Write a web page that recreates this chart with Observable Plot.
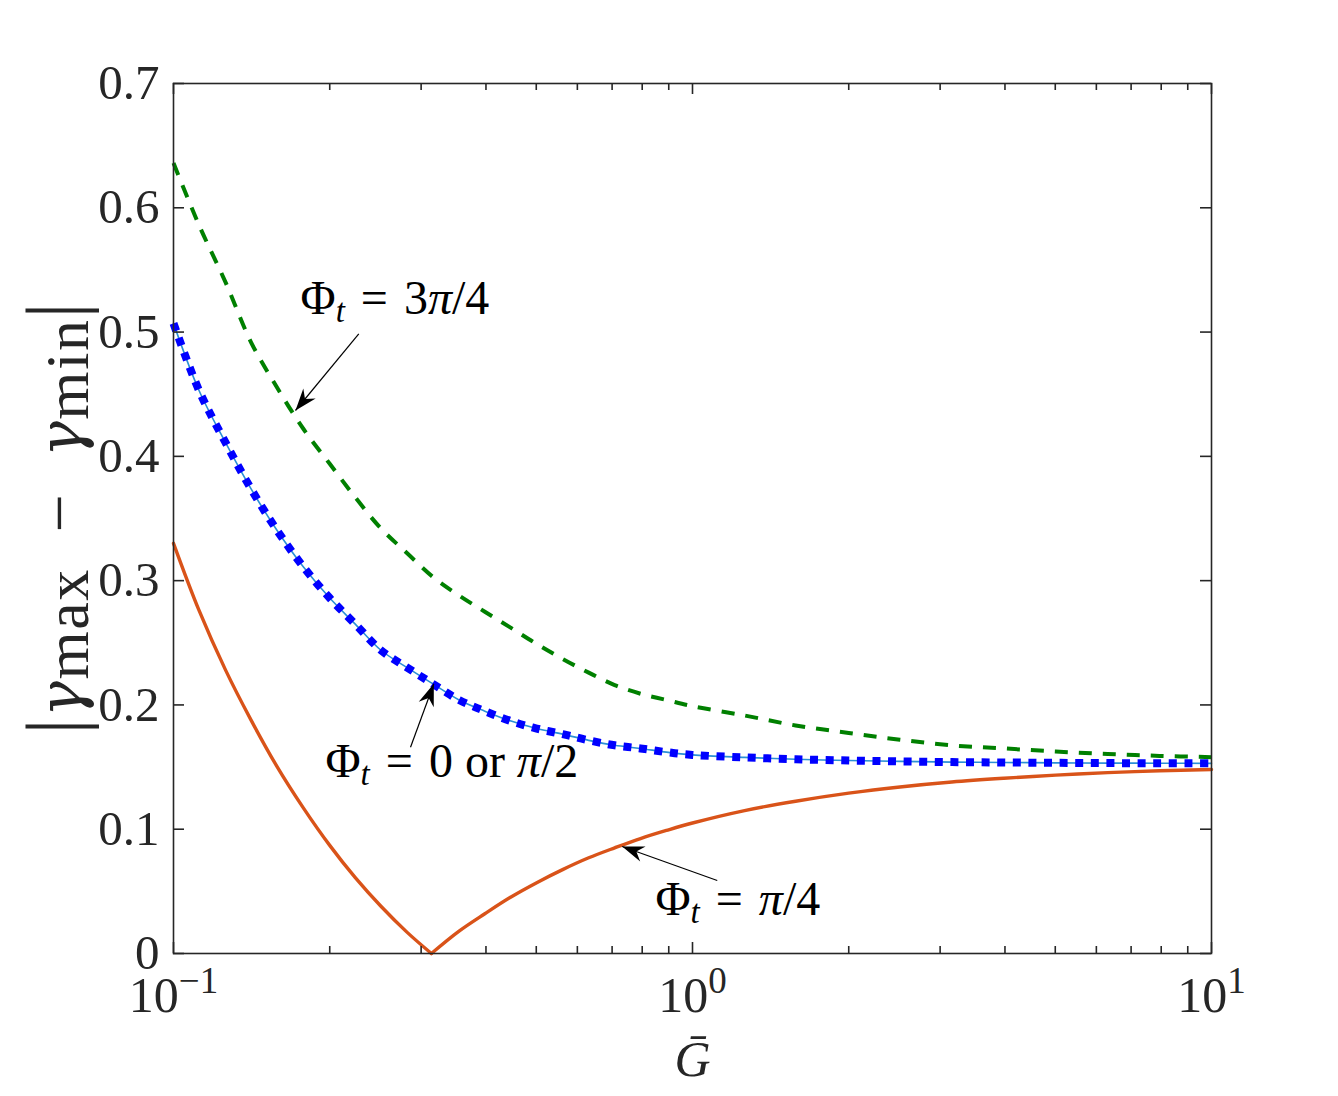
<!DOCTYPE html>
<html>
<head>
<meta charset="utf-8">
<script src="https://cdn.jsdelivr.net/npm/d3@7"></script>
<script src="https://cdn.jsdelivr.net/npm/@observablehq/plot@0.6"></script>
<style>
  body { margin: 0; background: #fff; }
  #chart svg { display: block; }
</style>
</head>
<body>
<div id="chart"></div>
<script>
// ---------------- data ----------------
const xTicks = [0.1, 1, 10];
const xTickExponents = ["\u22121", "0", "1"];
const xMinorTicks = [0.2, 0.3, 0.4, 0.5, 0.6, 0.7, 0.8, 0.9, 2, 3, 4, 5, 6, 7, 8, 9];
const yTicks = [0, 0.1, 0.2, 0.3, 0.4, 0.5, 0.6, 0.7];
const yTickLabels = ["0", "0.1", "0.2", "0.3", "0.4", "0.5", "0.6", "0.7"];

const gBar = [0.1, 0.112, 0.126, 0.141, 0.158, 0.178, 0.2, 0.224, 0.251, 0.282, 0.316, 0.355, 0.398, 0.447, 0.501, 0.562, 0.631, 0.708, 0.794, 0.891, 1, 1.26, 1.58, 2, 2.51, 3.16, 3.98, 5.01, 6.31, 7.94, 10];
// Phi_t = 3pi/4 (green dashed)
const gamma3pi4 = [0.636, 0.586, 0.540, 0.492, 0.456, 0.422, 0.394, 0.367, 0.342, 0.322, 0.303, 0.288, 0.275, 0.262, 0.249, 0.237, 0.226, 0.216, 0.209, 0.204, 0.199, 0.1915, 0.1835, 0.1775, 0.172, 0.1675, 0.165, 0.1625, 0.1605, 0.159, 0.158];
// Phi_t = 0 or pi/2 (blue dotted)
const gamma0pi2 = [0.507, 0.453, 0.411, 0.374, 0.341, 0.311, 0.286, 0.265, 0.244, 0.230, 0.217, 0.204, 0.195, 0.187, 0.181, 0.1765, 0.1715, 0.1675, 0.165, 0.162, 0.1598, 0.1578, 0.1563, 0.1553, 0.1546, 0.154, 0.1537, 0.1534, 0.1532, 0.1531, 0.153];
// Phi_t = pi/4 (orange solid), two branches meeting at the cusp
const gBarPi4Left = [0.1, 0.112, 0.126, 0.141, 0.158, 0.178, 0.2, 0.224, 0.251, 0.282, 0.314];
const gammaPi4Left = [0.330, 0.276, 0.228, 0.188, 0.151, 0.117, 0.087, 0.061, 0.038, 0.017, 0];
const gBarPi4Right = [0.314, 0.355, 0.398, 0.447, 0.501, 0.562, 0.631, 0.708, 0.794, 0.891, 1, 1.26, 1.58, 2, 2.51, 3.16, 3.98, 5.01, 6.31, 7.94, 10];
const gammaPi4Right = [0, 0.018, 0.032, 0.0455, 0.057, 0.0675, 0.077, 0.085, 0.0925, 0.099, 0.105, 0.115, 0.1225, 0.129, 0.134, 0.138, 0.141, 0.1435, 0.1455, 0.147, 0.148];

// annotations (text anchor at left baseline) and arrows (tail -> tip)
const annotationText = ["\u03A6_t = 3\u03C0/4", "\u03A6_t = 0 or \u03C0/2", "\u03A6_t = \u03C0/4"];
const annotationX = [0.1757, 0.1963, 0.8486];
const annotationY = [0.5149, 0.1424, 0.0306];
const arrowX1 = [0.2275, 0.2862, 1.116];
const arrowY1 = [0.4986, 0.166, 0.0587];
const arrowX2 = [0.1718, 0.3174, 0.732];
const arrowY2 = [0.4369, 0.217, 0.0861];

const xTitle = "G\u0304";
const yTitle = "|\u03B3_max \u2212 \u03B3_min|";

// ---------------- build ----------------
const W = 1338, H = 1096;
const M = {top: 83, right: 127, bottom: 143, left: 173};
const innerW = W - M.left - M.right;
const innerH = H - M.top - M.bottom;
const ink = "#262626";
const serif = "'Liberation Serif', 'Times New Roman', serif";
const yTitleLength = 432;

const rows = (xs, ys, series) => xs.map((x, i) => ({x, y: ys[i], series}));
const green = rows(gBar, gamma3pi4, "3pi/4");
const blue = rows(gBar, gamma0pi2, "0 or pi/2");
const orange = [...rows(gBarPi4Left, gammaPi4Left, "left"), ...rows(gBarPi4Right, gammaPi4Right, "right")];
const annotations = annotationText.map((t, i) => ({t, x: annotationX[i], y: annotationY[i]}));
const arrows = arrowX1.map((x1, i) => ({x1, y1: arrowY1[i], x2: arrowX2[i], y2: arrowY2[i]}));

const majorLen = 11, minorLen = 7;

const svg = Plot.plot({
  width: W, height: H,
  marginTop: M.top, marginRight: M.right, marginBottom: M.bottom, marginLeft: M.left,
  x: {type: "log", domain: [0.1, 10], label: null},
  y: {domain: [0, 0.7], label: null},
  style: {fontFamily: serif, fontSize: "48px", color: ink, background: "white", overflow: "visible"},
  marks: [
    Plot.line(orange, {x: "x", y: "y", z: "series", stroke: "#D95319", strokeWidth: 3.4, curve: "catmull-rom"}),
    Plot.line(green, {x: "x", y: "y", stroke: "#008000", strokeWidth: 4, strokeDasharray: "13,11", strokeLinecap: "butt", curve: "catmull-rom"}),
    Plot.line(blue, {x: "x", y: "y", stroke: "#2b8fd6", strokeWidth: 1.6, curve: "catmull-rom"}),
    Plot.line(blue, {x: "x", y: "y", stroke: "#0000FF", strokeWidth: 8, strokeDasharray: "8,7.6", strokeLinecap: "butt", curve: "catmull-rom"}),
    // inward ticks on all four sides
    Plot.tickX(xTicks, {x: d => d, insetTop: innerH - majorLen, stroke: ink, strokeWidth: 1.6}),
    Plot.tickX(xTicks, {x: d => d, insetBottom: innerH - majorLen, stroke: ink, strokeWidth: 1.6}),
    Plot.tickX(xMinorTicks, {x: d => d, insetTop: innerH - minorLen, stroke: ink, strokeWidth: 1.6}),
    Plot.tickX(xMinorTicks, {x: d => d, insetBottom: innerH - minorLen, stroke: ink, strokeWidth: 1.6}),
    Plot.tickY(yTicks, {y: d => d, insetRight: innerW - majorLen, stroke: ink, strokeWidth: 1.6}),
    Plot.tickY(yTicks, {y: d => d, insetLeft: innerW - majorLen, stroke: ink, strokeWidth: 1.6}),
    Plot.frame({stroke: ink, strokeWidth: 1.6}),
    Plot.axisX({ticks: xTicks, tickSize: 0, tickPadding: 23, label: null, fontSize: 50,
      tickFormat: d => "10" + "^" + xTickExponents[xTicks.indexOf(d)]}),
    Plot.axisY({ticks: yTicks, tickSize: 0, tickPadding: 14, label: null, fontSize: 49,
      tickFormat: d => yTickLabels[yTicks.indexOf(d)]}),
    Plot.link(arrows, {x1: "x1", y1: "y1", x2: "x2", y2: "y2", stroke: "black", strokeWidth: 1.2, ariaLabel: () => "annotation-arrow"}),
    Plot.text(annotations, {x: "x", y: "y", text: "t", textAnchor: "start", lineAnchor: "bottom", fontSize: 48, fill: "black", ariaLabel: () => "annotation-text"}),
    Plot.text([yTitle], {frameAnchor: "left", dx: -113, rotate: -90, textAnchor: "middle", text: d => d, fontSize: 68, fill: ink, ariaLabel: () => "y-title"}),
    Plot.text([xTitle], {frameAnchor: "bottom", dy: 122, lineAnchor: "bottom", text: d => d, fontSize: 50, fontStyle: "italic", fill: ink, ariaLabel: () => "x-title"})
  ]
});

// ---------------- rich text (sub/superscripts) ----------------
const NS = "http://www.w3.org/2000/svg";
function richText(el, parts) {
  el.textContent = "";
  el.setAttribute("style", "white-space: pre");
  let shift = 0;
  for (const p of parts) {
    const t = document.createElementNS(NS, "tspan");
    const target = p.dy || 0;
    if (target !== shift) { t.setAttribute("dy", target - shift); shift = target; }
    if (p.size) t.setAttribute("font-size", p.size);
    if (p.italic) t.setAttribute("font-style", "italic");
    if (p.family) t.setAttribute("font-family", p.family);
    t.textContent = p.text;
    el.appendChild(t);
  }
}

svg.querySelectorAll('[aria-label="x-axis tick label"] text').forEach(el => {
  const [base, exp] = el.textContent.split("^");
  richText(el, [{text: base}, {text: exp, size: 37, dy: -19}]);
});

const mathSpace = "\u2004"; // three-per-em space, like TeX's thick space around relations
svg.querySelectorAll('text[aria-label="annotation-text"]').forEach(el => {
  const rest = el.textContent.slice(3).replace(/ = /, mathSpace + "=" + mathSpace); // after "Φ_t"
  const parts = [{text: "\u03A6"}, {text: "t", italic: true, size: 33, dy: 8}];
  rest.split(/(\u03C0)/).forEach(seg => {
    if (!seg) return;
    parts.push(seg === "\u03C0" ? {text: seg, italic: true} : {text: seg});
  });
  richText(el, parts);
});

svg.querySelectorAll('text[aria-label="y-title"]').forEach(el => {
  const [, a, b] = el.textContent.match(/_(\w+) \u2212 \u03B3_(\w+)/);
  richText(el, [
    {text: "|", size: 80},
    {text: "\u03B3", italic: true, family: "'DejaVu Serif', serif", size: 60},
    {text: a, size: 62, dy: 6},
    {text: "\u2002\u2212\u2002"},
    {text: "\u03B3", italic: true, family: "'DejaVu Serif', serif", size: 60},
    {text: b, size: 62, dy: 6},
    {text: "|", size: 80}
  ]);
  el.setAttribute("textLength", yTitleLength);
  el.setAttribute("lengthAdjust", "spacing");
});

// filled arrowheads for the annotation arrows
const defs = document.createElementNS(NS, "defs");
const marker = document.createElementNS(NS, "marker");
marker.setAttribute("id", "annot-head");
marker.setAttribute("viewBox", "-24 -10 25 20");
marker.setAttribute("markerWidth", "25");
marker.setAttribute("markerHeight", "20");
marker.setAttribute("refX", "0");
marker.setAttribute("refY", "0");
marker.setAttribute("orient", "auto");
marker.setAttribute("markerUnits", "userSpaceOnUse");
const head = document.createElementNS(NS, "path");
head.setAttribute("d", "M0,0 L-22,-8 L-15,0 L-22,8 Z");
head.setAttribute("fill", "black");
marker.appendChild(head);
defs.appendChild(marker);
svg.insertBefore(defs, svg.firstChild);
svg.querySelectorAll('path[aria-label="annotation-arrow"]').forEach(p => p.setAttribute("marker-end", "url(#annot-head)"));

document.getElementById("chart").appendChild(svg);
</script>
</body>
</html>
